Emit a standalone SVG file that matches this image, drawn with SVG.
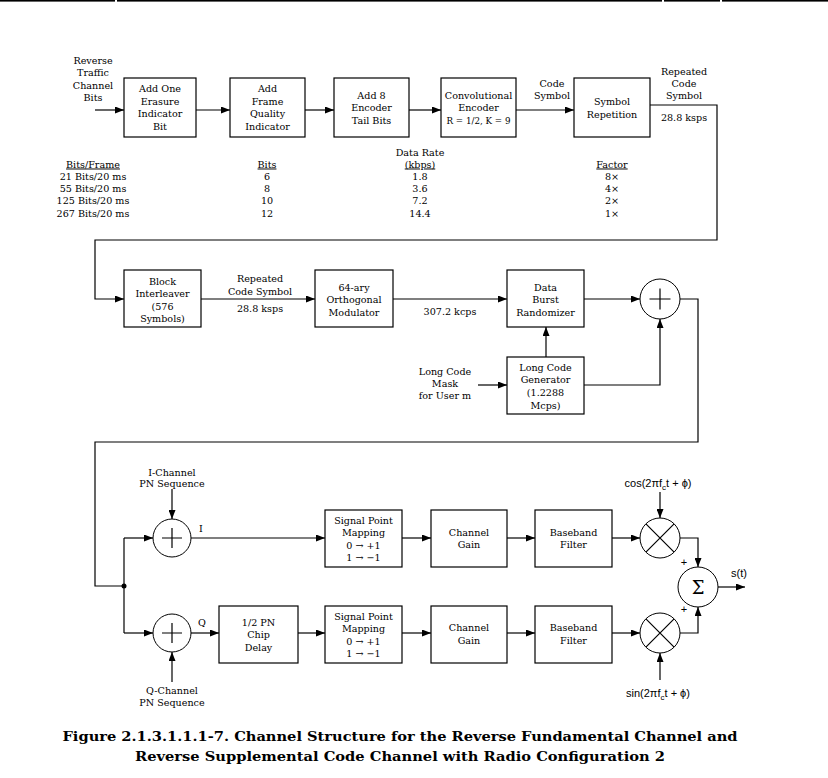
<svg xmlns="http://www.w3.org/2000/svg" width="828" height="778" viewBox="0 0 828 778">
<style>
.b{fill:#fff;stroke:#000;stroke-width:1.2}
.c{fill:#fff;stroke:#000;stroke-width:1}
.l{fill:none;stroke:#000;stroke-width:1.2}
.t{font-family:"DejaVu Serif",serif;font-size:9.6px;text-anchor:middle;fill:#000}
.s{font-family:"Liberation Sans",Arial,sans-serif;font-size:11px;text-anchor:middle;fill:#000}
.u{text-decoration:underline}
.cap{font-family:"DejaVu Serif",serif;font-size:13px;font-weight:bold;text-anchor:middle;fill:#000}
</style>
<defs>
<marker id="a" markerWidth="9" markerHeight="7" refX="9" refY="3.5" orient="auto" markerUnits="userSpaceOnUse"><path d="M0,0 L9,3.5 L0,7 z" fill="#000"/></marker>
</defs>
<rect width="828" height="778" fill="#fff"/>
<g id="border">
<rect x="0" y="0" width="115" height="1.6" fill="#000"/>
<rect x="117" y="0" width="545" height="1.6" fill="#000"/>
<rect x="664" y="0" width="56" height="1.6" fill="#000"/>
<rect x="722" y="0" width="106" height="1.6" fill="#000"/>
</g>
<g id="connectors">
<path class="l" d="M95,110 H124" marker-end="url(#a)"/>
<path class="l" d="M196,110 H230" marker-end="url(#a)"/>
<path class="l" d="M305,110 H334" marker-end="url(#a)"/>
<path class="l" d="M409,110 H441" marker-end="url(#a)"/>
<path class="l" d="M516,110 H574" marker-end="url(#a)"/>
<path class="l" d="M650,105 H717 V240 H95 V299 H124" marker-end="url(#a)"/>
<path class="l" d="M201,299 H315" marker-end="url(#a)"/>
<path class="l" d="M393,299 H507" marker-end="url(#a)"/>
<path class="l" d="M584,299 H640" marker-end="url(#a)"/>
<path class="l" d="M478,385 H507" marker-end="url(#a)"/>
<path class="l" d="M546,357 V327" marker-end="url(#a)"/>
<path class="l" d="M584,385 H660 V319" marker-end="url(#a)"/>
<path class="l" d="M680,299 H698 V442 H95 V586 H124"/>
<path class="l" d="M124,538 V633"/>
<path class="l" d="M124,538 H153" marker-end="url(#a)"/>
<path class="l" d="M124,633 H153" marker-end="url(#a)"/>
<path class="l" d="M172,489 V519" marker-end="url(#a)"/>
<path class="l" d="M172,682 V652" marker-end="url(#a)"/>
<path class="l" d="M191,538 H325" marker-end="url(#a)"/>
<path class="l" d="M191,633 H219" marker-end="url(#a)"/>
<path class="l" d="M298,633 H325" marker-end="url(#a)"/>
<path class="l" d="M402,538 H431" marker-end="url(#a)"/>
<path class="l" d="M402,633 H431" marker-end="url(#a)"/>
<path class="l" d="M507,538 H535" marker-end="url(#a)"/>
<path class="l" d="M507,633 H535" marker-end="url(#a)"/>
<path class="l" d="M612,538 H640" marker-end="url(#a)"/>
<path class="l" d="M612,633 H640" marker-end="url(#a)"/>
<path class="l" d="M660,492 V518" marker-end="url(#a)"/>
<path class="l" d="M660,680 V653" marker-end="url(#a)"/>
<path class="l" d="M680,538 H698 V567" marker-end="url(#a)"/>
<path class="l" d="M680,633 H698 V607" marker-end="url(#a)"/>
<path class="l" d="M718,587 H745" marker-end="url(#a)"/>
<circle cx="124" cy="586" r="2.5" fill="#000"/>
</g>
<g id="labels">
<text class="t" x="93" y="63.5">Reverse</text>
<text class="t" x="93" y="76">Traffic</text>
<text class="t" x="93" y="88.5">Channel</text>
<text class="t" x="93" y="101">Bits</text>
<text class="t" x="552" y="86.5">Code</text>
<text class="t" x="552" y="99">Symbol</text>
<text class="t" x="684" y="75">Repeated</text>
<text class="t" x="684" y="87">Code</text>
<text class="t" x="684" y="99">Symbol</text>
<text class="t" x="684" y="121">28.8 ksps</text>
<text class="t" x="260" y="281.5">Repeated</text>
<text class="t" x="260" y="294.5">Code Symbol</text>
<text class="t" x="260" y="311.5">28.8 ksps</text>
<text class="t" x="450" y="314.5">307.2 kcps</text>
<text class="t" x="445" y="375">Long Code</text>
<text class="t" x="445" y="387">Mask</text>
<text class="t" x="445" y="399">for User m</text>
<text class="t" x="172" y="475.5">I-Channel</text>
<text class="t" x="172" y="487">PN Sequence</text>
<text class="t" x="201" y="532">I</text>
<text class="t" x="202" y="626">Q</text>
<text class="t" x="172" y="693.5">Q-Channel</text>
<text class="t" x="172" y="705.5">PN Sequence</text>
<text class="s" x="658" y="487">cos(2πf<tspan font-size="8" dy="3">c</tspan><tspan dy="-3">t + ϕ)</tspan></text>
<text class="s" x="658" y="697">sin(2πf<tspan font-size="8" dy="3">c</tspan><tspan dy="-3">t + ϕ)</tspan></text>
<text class="s" x="684" y="566" font-size="9">+</text>
<text class="s" x="684" y="613" font-size="9">+</text>
<text class="s" x="739" y="577">s(t)</text>
</g>
<g id="table">
<text class="t u" x="93" y="167.5">Bits/Frame</text>
<text class="t" x="93" y="179.5">21 Bits/20 ms</text>
<text class="t" x="93" y="191.5">55 Bits/20 ms</text>
<text class="t" x="93" y="204">125 Bits/20 ms</text>
<text class="t" x="93" y="216.5">267 Bits/20 ms</text>
<text class="t u" x="267" y="167.5">Bits</text>
<text class="t" x="267" y="179.5">6</text>
<text class="t" x="267" y="191.5">8</text>
<text class="t" x="267" y="204">10</text>
<text class="t" x="267" y="216.5">12</text>
<text class="t" x="420" y="155.5">Data Rate</text>
<text class="t u" x="420" y="167.5">(kbps)</text>
<text class="t" x="420" y="179.5">1.8</text>
<text class="t" x="420" y="191.5">3.6</text>
<text class="t" x="420" y="204">7.2</text>
<text class="t" x="420" y="216.5">14.4</text>
<text class="t u" x="612" y="167.5">Factor</text>
<text class="t" x="612" y="179.5">8×</text>
<text class="t" x="612" y="191.5">4×</text>
<text class="t" x="612" y="204">2×</text>
<text class="t" x="612" y="216.5">1×</text>
</g>
<g id="erasure">
<rect class="b" x="124" y="78" width="72" height="59"/>
<text class="t" x="160" y="92">Add One</text>
<text class="t" x="160" y="104.7">Erasure</text>
<text class="t" x="160" y="117.4">Indicator</text>
<text class="t" x="160" y="130">Bit</text>
</g>
<g id="fqi">
<rect class="b" x="230" y="78" width="75" height="59"/>
<text class="t" x="267.5" y="92">Add</text>
<text class="t" x="267.5" y="104.7">Frame</text>
<text class="t" x="267.5" y="117.4">Quality</text>
<text class="t" x="267.5" y="130">Indicator</text>
</g>
<g id="tail">
<rect class="b" x="334" y="78" width="75" height="59"/>
<text class="t" x="371.5" y="98.5">Add 8</text>
<text class="t" x="371.5" y="111">Encoder</text>
<text class="t" x="371.5" y="123.5">Tail Bits</text>
</g>
<g id="conv">
<rect class="b" x="441" y="78" width="75" height="59"/>
<text class="t" x="478.5" y="98.5">Convolutional</text>
<text class="t" x="478.5" y="111">Encoder</text>
<text class="t" x="478.5" y="123.5" textLength="64" lengthAdjust="spacingAndGlyphs">R = 1/2, K = 9</text>
</g>
<g id="rep">
<rect class="b" x="574" y="78" width="76" height="59"/>
<text class="t" x="612" y="105">Symbol</text>
<text class="t" x="612" y="117.5">Repetition</text>
</g>
<g id="interleaver">
<rect class="b" x="124" y="270" width="77" height="57"/>
<text class="t" x="162.5" y="284.5">Block</text>
<text class="t" x="162.5" y="297">Interleaver</text>
<text class="t" x="162.5" y="309.5">(576</text>
<text class="t" x="162.5" y="322">Symbols)</text>
</g>
<g id="ortho">
<rect class="b" x="315" y="270" width="78" height="57"/>
<text class="t" x="354" y="290.5">64-ary</text>
<text class="t" x="354" y="303">Orthogonal</text>
<text class="t" x="354" y="315.5">Modulator</text>
</g>
<g id="dbr">
<rect class="b" x="507" y="270" width="77" height="57"/>
<text class="t" x="545.5" y="290.5">Data</text>
<text class="t" x="545.5" y="303">Burst</text>
<text class="t" x="545.5" y="315.5">Randomizer</text>
</g>
<g id="xor1">
<circle class="c" cx="660" cy="299" r="20"/>
<path class="l" d="M649.5,299 H670.5 M660,288.5 V309.5"/>
</g>
<g id="lcg">
<rect class="b" x="507" y="357" width="77" height="57"/>
<text class="t" x="545.5" y="370.5">Long Code</text>
<text class="t" x="545.5" y="383">Generator</text>
<text class="t" x="545.5" y="396">(1.2288</text>
<text class="t" x="545.5" y="408.5">Mcps)</text>
</g>
<g id="xorI">
<circle class="c" cx="172" cy="538" r="19"/>
<path class="l" d="M162,538 H182 M172,528 V548"/>
</g>
<g id="xorQ">
<circle class="c" cx="172" cy="633" r="19"/>
<path class="l" d="M162,633 H182 M172,623 V643"/>
</g>
<g id="delay">
<rect class="b" x="219" y="606" width="79" height="57"/>
<text class="t" x="258.5" y="625.5">1/2 PN</text>
<text class="t" x="258.5" y="638">Chip</text>
<text class="t" x="258.5" y="650.5">Delay</text>
</g>
<g id="spmI">
<rect class="b" x="325" y="510" width="77" height="57"/>
<text class="t" x="363.5" y="523.5">Signal Point</text>
<text class="t" x="363.5" y="536">Mapping</text>
<text class="t" x="363.5" y="548.5">0 → +1</text>
<text class="t" x="363.5" y="561">1 → −1</text>
</g>
<g id="spmQ">
<rect class="b" x="325" y="606" width="77" height="57"/>
<text class="t" x="363.5" y="619.5">Signal Point</text>
<text class="t" x="363.5" y="632">Mapping</text>
<text class="t" x="363.5" y="644.5">0 → +1</text>
<text class="t" x="363.5" y="657">1 → −1</text>
</g>
<g id="gainI">
<rect class="b" x="431" y="510" width="76" height="57"/>
<text class="t" x="469" y="535.5">Channel</text>
<text class="t" x="469" y="548">Gain</text>
</g>
<g id="gainQ">
<rect class="b" x="431" y="606" width="76" height="57"/>
<text class="t" x="469" y="631">Channel</text>
<text class="t" x="469" y="643.5">Gain</text>
</g>
<g id="bbfI">
<rect class="b" x="535" y="510" width="77" height="57"/>
<text class="t" x="573.5" y="535.5">Baseband</text>
<text class="t" x="573.5" y="548">Filter</text>
</g>
<g id="bbfQ">
<rect class="b" x="535" y="606" width="77" height="57"/>
<text class="t" x="573.5" y="631">Baseband</text>
<text class="t" x="573.5" y="643.5">Filter</text>
</g>
<g id="mulI">
<circle class="c" cx="660" cy="538" r="20"/>
<path class="l" d="M645.9,523.9 L674.1,552.1 M674.1,523.9 L645.9,552.1" stroke-width="1"/>
</g>
<g id="mulQ">
<circle class="c" cx="660" cy="633" r="20"/>
<path class="l" d="M645.9,618.9 L674.1,647.1 M674.1,618.9 L645.9,647.1" stroke-width="1"/>
</g>
<g id="sum">
<circle class="c" cx="698" cy="587" r="20"/>
<text x="698" y="593.5" font-family="DejaVu Serif,serif" font-size="18" text-anchor="middle">Σ</text>
</g>
<g id="caption">
<text class="cap" x="400" y="741" textLength="675" lengthAdjust="spacingAndGlyphs">Figure 2.1.3.1.1.1-7. Channel Structure for the Reverse Fundamental Channel and</text>
<text class="cap" x="400" y="761" textLength="530" lengthAdjust="spacingAndGlyphs">Reverse Supplemental Code Channel with Radio Configuration 2</text>
</g>
</svg>
